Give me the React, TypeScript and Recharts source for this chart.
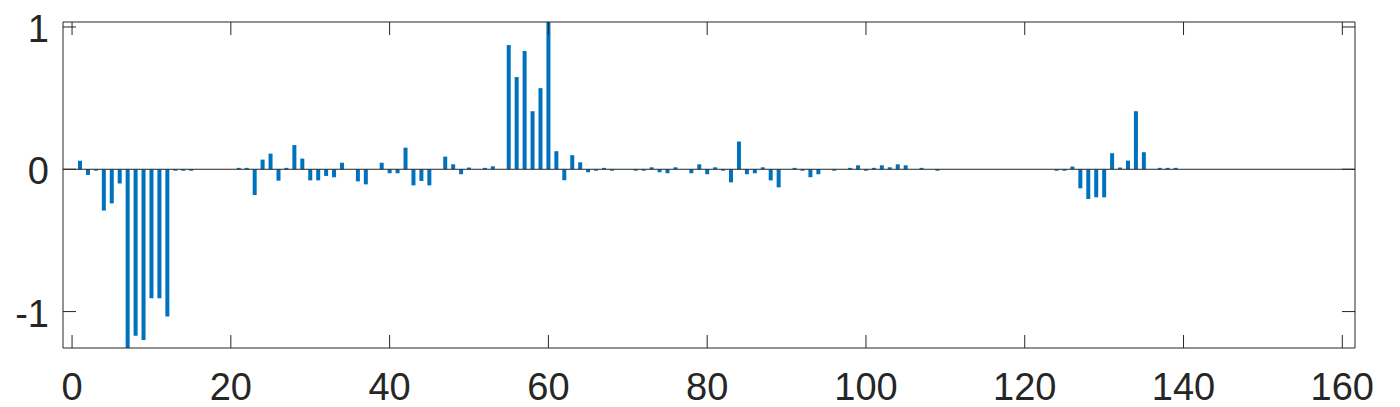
import React from 'react';
import {
  BarChart,
  Bar,
  XAxis,
  YAxis,
  ReferenceLine,
} from 'recharts';

// stem values at lags 1..140
const values: number[] = [
  0.06, -0.04, -0.01, -0.29, -0.24, -0.1, -1.35, -1.17, -1.2, -0.906,
  -0.906, -1.035, -0.01, -0.01, -0.01, 0, 0, 0, 0, 0,
  0.01, 0.01, -0.18, 0.068, 0.11, -0.08, 0.01, 0.17, 0.075, -0.078,
  -0.078, -0.047, -0.056, 0.046, 0, -0.085, -0.106, 0, 0.046, -0.028,
  -0.028, 0.152, -0.113, -0.082, -0.113, 0, 0.089, 0.035, -0.035, 0.012,
  0, 0.01, 0.021, 0, 0.873, 0.648, 0.831, 0.408, 0.57, 1.1,
  0.127, -0.077, 0.099, 0.049, -0.021, -0.01, 0.01, -0.01, 0, 0,
  -0.01, -0.01, 0.014, -0.021, -0.028, 0.014, 0, -0.028, 0.035, -0.035,
  0.014, -0.01, -0.092, 0.195, -0.035, -0.028, 0.014, -0.078, -0.127, 0,
  0.01, -0.01, -0.056, -0.035, 0, -0.01, 0, 0.01, 0.028, -0.01,
  0.01, 0.028, 0.014, 0.035, 0.028, 0, 0.01, 0, -0.01, 0,
  0, 0, 0, 0, 0, 0, 0, 0, 0, 0,
  0, 0, 0, -0.01, -0.01, 0.019, -0.134, -0.209, -0.197, -0.197,
  0.113, 0.012, 0.061, 0.408, 0.12, 0, 0.01, 0.01, 0.01, 0,
];

const xTicks = [0, 20, 40, 60, 80, 100, 120, 140, 160];
const yTicks = [-1, 0, 1];

const data = values.map((v, i) => ({ lag: i + 1, value: v }));

const INK = '#262626';
const FONT = '"Liberation Sans", Arial, Helvetica, sans-serif';
const TICK_LEN = 13;

const BottomTick = (props: any) => {
  const { x, y, payload } = props;
  return (
    <g>
      <line x1={x} y1={y} x2={x} y2={y - TICK_LEN} stroke={INK} />
      <text x={x} y={y + 52} textAnchor="middle" fontSize={38} fill={INK} fontFamily={FONT}>
        {payload.value}
      </text>
    </g>
  );
};

const TopTick = (props: any) => {
  const { x, y } = props;
  return <line x1={x} y1={y} x2={x} y2={y + TICK_LEN} stroke={INK} />;
};

const LeftTick = (props: any) => {
  const { x, y, payload } = props;
  return (
    <g>
      <line x1={x} y1={y} x2={x + TICK_LEN} y2={y} stroke={INK} />
      <text x={x - 14} y={y + 15} textAnchor="end" fontSize={38} fill={INK} fontFamily={FONT}>
        {payload.value}
      </text>
    </g>
  );
};

const RightTick = (props: any) => {
  const { x, y } = props;
  return <line x1={x} y1={y} x2={x - TICK_LEN} y2={y} stroke={INK} />;
};

const App = () => {
  return (
    <div style={{ position: 'absolute', left: 0, top: 0, width: 1400, height: 407, background: '#fff' }}>
      <BarChart
        width={1400}
        height={407}
        data={data}
        margin={{ top: 0, right: 0, bottom: 0, left: 0 }}
        barSize={4}
      >
        <XAxis
          xAxisId="bottom"
          dataKey="lag"
          type="number"
          domain={[-1.14, 161.6]}
          ticks={xTicks}
          interval={0}
          height={59}
          tickSize={0}
          tickMargin={0}
          tick={<BottomTick />}
          axisLine={{ stroke: INK }}
          allowDataOverflow
        />
        <XAxis
          xAxisId="top"
          orientation="top"
          dataKey="lag"
          type="number"
          domain={[-1.14, 161.6]}
          ticks={xTicks}
          interval={0}
          height={22}
          tickSize={0}
          tickMargin={0}
          tick={<TopTick />}
          axisLine={{ stroke: INK }}
          allowDataOverflow
        />
        <YAxis
          yAxisId="left"
          type="number"
          domain={[-1.256, 1.035]}
          ticks={yTicks}
          interval={0}
          width={63}
          tickSize={0}
          tickMargin={0}
          tick={<LeftTick />}
          axisLine={{ stroke: INK }}
          allowDataOverflow
        />
        <YAxis
          yAxisId="right"
          orientation="right"
          type="number"
          domain={[-1.256, 1.035]}
          ticks={yTicks}
          interval={0}
          width={45}
          tickSize={0}
          tickMargin={0}
          tick={<RightTick />}
          axisLine={{ stroke: INK }}
          allowDataOverflow
        />
        <Bar
          xAxisId="bottom"
          yAxisId="left"
          dataKey="value"
          fill="#0072BD"
          isAnimationActive={false}
        />
        <ReferenceLine xAxisId="bottom" yAxisId="left" y={0} stroke={INK} />
      </BarChart>
    </div>
  );
};

export default App;
